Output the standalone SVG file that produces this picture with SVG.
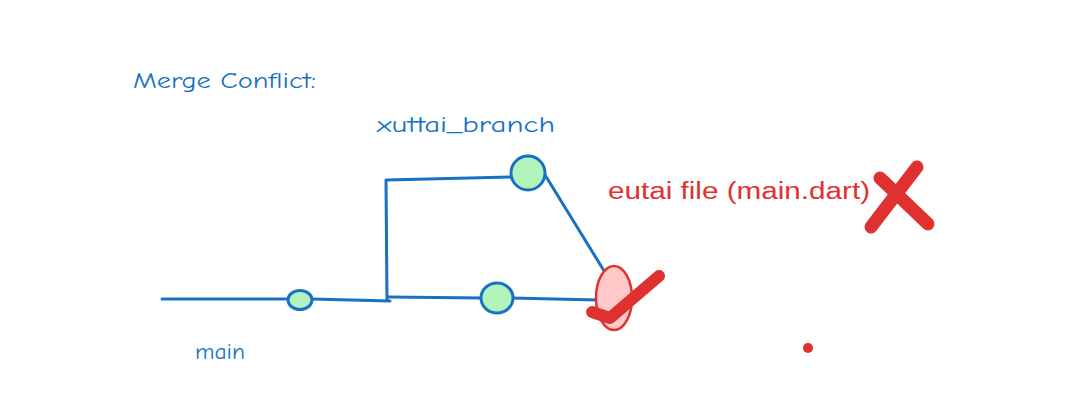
<svg xmlns="http://www.w3.org/2000/svg" width="1076" height="410" viewBox="0 0 1076 410">
<style>
.blue{fill:none;stroke:#1971c2;stroke-width:3;stroke-linecap:round;stroke-linejoin:round}
.node{fill:#b2f2bb;stroke:#1971c2;stroke-width:3}
.lblb{font-family:"Comic Neue","Liberation Sans",sans-serif;font-size:23px;fill:#1971c2}
.lblr{font-family:"Liberation Sans",sans-serif;font-size:23px;fill:#e03131}
.red{fill:none;stroke:#e03131;stroke-linecap:round;stroke-linejoin:round}
</style>
<rect width="1076" height="410" fill="#ffffff"/>
<g id="labels">
<text class="lblb" x="133" y="88" textLength="183" lengthAdjust="spacingAndGlyphs">Merge Conflict:</text>
<text class="lblb" x="377" y="132" textLength="178" lengthAdjust="spacingAndGlyphs">xuttai_branch</text>
<text class="lblr" x="608" y="199" textLength="262" lengthAdjust="spacingAndGlyphs">eutai file (main.dart)</text>
<text class="lblb" x="195" y="359" font-size="20" textLength="50" lengthAdjust="spacingAndGlyphs">main</text>
</g>
<g id="connectors">
<path class="blue" d="M162 299 L288 299"/>
<path class="blue" d="M312 299 L390 301"/>
<path class="blue" d="M386 180 L387 300"/>
<path class="blue" d="M388 297 L482 298"/>
<path class="blue" d="M512 298 L597 300"/>
<path class="blue" d="M387 180 L512 177"/>
<path class="blue" d="M542 170 L606 274"/>
</g>
<g id="node-main-commit"><ellipse class="node" cx="300" cy="300" rx="12" ry="9.5"/></g>
<g id="node-main-commit2"><ellipse class="node" cx="497" cy="298" rx="16" ry="15"/></g>
<g id="node-branch-commit"><ellipse class="node" cx="528" cy="173" rx="17" ry="17"/></g>
<g id="node-merge"><ellipse cx="614" cy="298" rx="18" ry="32" fill="#ffc9c9" stroke="#e03131" stroke-width="2.5"/></g>
<g id="check"><path class="red" stroke-width="12" d="M592 312 L610 318 L659 276"/></g>
<g id="cross">
<path class="red" stroke-width="13" d="M917 167 L871 227"/>
<path class="red" stroke-width="13" d="M880 178 L928 224"/>
</g>
<g id="dot"><circle cx="808" cy="348" r="5" fill="#e03131"/></g>
</svg>
